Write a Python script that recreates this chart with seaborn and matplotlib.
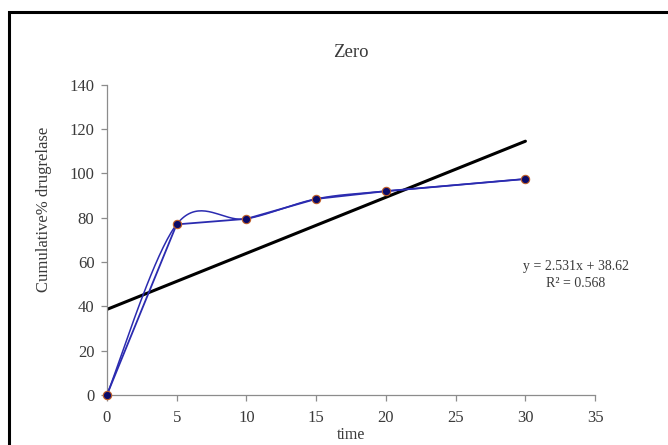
import numpy as np
import pandas as pd
import matplotlib
matplotlib.use("Agg")
import matplotlib.pyplot as plt
from matplotlib.patches import Rectangle
import seaborn as sns

# Cumulative % drug release over time
time = [0, 5, 10, 15, 20, 30]
release = [0.0, 77.0, 79.5, 88.5, 92.0, 97.5]

# Linear trendline (zero-order fit)
slope = 2.531
intercept = 38.62
r_squared = 0.568
fit_x = [0, 30]

x_ticks = [0, 5, 10, 15, 20, 25, 30, 35]
y_ticks = [0, 20, 40, 60, 80, 100, 120, 140]

sns.set_theme(style="white")
plt.rcParams["font.family"] = ["Liberation Serif", "DejaVu Serif"]

TEXT = "#3a3a3a"
AXIS = "#8c8c8c"
BLUE = "#2b2bb0"


def smooth_curve(xs, ys, n=40):
    """Cubic Bezier smoothing through the points (spreadsheet-style smoothed line)."""
    pts = np.column_stack([xs, ys]).astype(float)
    out = []
    m = len(pts)
    for i in range(m - 1):
        p0 = pts[i]
        p3 = pts[i + 1]
        prev = pts[i - 1] if i > 0 else pts[i]
        nxt = pts[i + 2] if i + 2 < m else pts[i + 1]
        c1 = p0 + (p3 - prev) / 6.0
        c2 = p3 - (nxt - p0) / 6.0
        t = np.linspace(0, 1, n)[:, None]
        seg = ((1 - t) ** 3) * p0 + 3 * ((1 - t) ** 2) * t * c1 + 3 * (1 - t) * t ** 2 * c2 + t ** 3 * p3
        out.append(seg if i == 0 else seg[1:])
    s = np.vstack(out)
    return s[:, 0], s[:, 1]


df = pd.DataFrame({"time": time, "release": release})
sx, sy = smooth_curve(time, release)
smooth_df = pd.DataFrame({"time": sx, "release": sy})
fit_df = pd.DataFrame({"time": fit_x, "release": [slope * v + intercept for v in fit_x]})

fig = plt.figure(figsize=(6.68, 4.45), dpi=100)
ax = fig.add_axes([0.160, 0.1124, 0.731, 0.697])

# Trendline
sns.lineplot(data=fit_df, x="time", y="release", ax=ax, color="black", linewidth=2.2, zorder=2)
# Straight segments and smoothed curve through the measurements
sns.lineplot(data=df, x="time", y="release", ax=ax, color=BLUE, linewidth=1.3, zorder=3)
sns.lineplot(data=smooth_df, x="time", y="release", ax=ax, color=BLUE, linewidth=1.1,
             sort=False, estimator=None, zorder=3)
sns.scatterplot(data=df, x="time", y="release", ax=ax, color="#0a0a6a", edgecolor="#c0602a",
                linewidth=0.8, s=36, zorder=4, clip_on=False)

ax.set_xlim(0, 35)
ax.set_ylim(0, 140)
ax.set_xticks(x_ticks)
ax.set_yticks(y_ticks)
ax.set_xticklabels([str(v) for v in x_ticks])
ax.set_yticklabels([str(v) for v in y_ticks])
ax.tick_params(axis="both", direction="out", length=4, width=0.9, color=AXIS,
               labelcolor=TEXT, labelsize=12, bottom=True, left=True)
ax.tick_params(axis="x", pad=7)
ax.tick_params(axis="y", pad=5)
for side in ["top", "right"]:
    ax.spines[side].set_visible(False)
for side in ["left", "bottom"]:
    ax.spines[side].set_color(AXIS)
    ax.spines[side].set_linewidth(0.9)

ax.set_xlabel("time", fontsize=11.5, color=TEXT)
ax.xaxis.set_label_coords(0.5, -0.102)
ax.set_ylabel("Cumulative% drugrelase", fontsize=12, color=TEXT)
ax.yaxis.set_label_coords(-0.113, 0.60)
ax.set_title("Zero", fontsize=13.5, color=TEXT, pad=20)

fig.text(0.862, 0.382, f"y = {slope}x + {intercept}\nR² = {r_squared}",
         ha="center", va="center", fontsize=10, color=TEXT, linespacing=1.4)

# Outer border around the figure
fig.patches.append(Rectangle((8.5 / 668, -0.1), 1.2, 0.1 + (445 - 12) / 445,
                             transform=fig.transFigure, fill=False,
                             edgecolor="black", linewidth=2.2))

fig.savefig("out.png", dpi=100, facecolor="white")
